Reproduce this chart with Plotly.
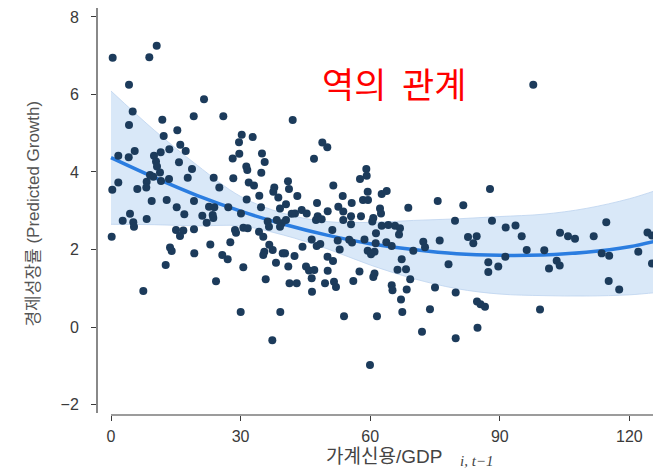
import plotly.graph_objects as go

# ---- data ----
credit_gdp = [
    0.39, 8.87, 10.58, 4.17, 21.53, 5.02, 4.17, 11.88, 19.15, 26.0,
    42.06, 15.35, 12.2, 30.26, 32.8, 29.63, 16.04, 17.29, 13.5, 11.5,
    5.49, 1.69, 4.1, 9.95, 10.42, 15.74, 10.65, 29.7, 28.17, 34.95,
    35.58, 31.32, 31.55, 18.75, 11.34, 9.03, 9.79, 17.76, 13.43, 11.57,
    8.26, 23.77, 28.31, 34.79, 31.88, 33.1, 1.69, 0.3, 6.09, 8.17,
    25.07, 37.8, 37.57, 40.97, 41.2, 34.33, 31.41, 38.73, 9.42, 12.89,
    19.21, 48.92, 50.07, 46.99, 43.13, 47.69, 51.46, 53.64, 55.72, 59.1,
    59.19, 57.64, 59.42, 58.33, 59.49, 62.66, 63.82, 75.63, 81.55, 97.75,
    87.73, 15.21, 22.69, 23.91, 27.15, 34.72, 39.12, 40.51, 4.4, 2.71,
    5.16, 5.32, 8.26, 16.97, 21.14, 23.54, 23.68, 22.15, 30.09, 36.27,
    38.36, 39.51, 40.51, 36.57, 39.12, 0.16, 15.05, 16.74, 15.97, 19.21,
    28.7, 28.94, 30.63, 31.64, 34.26, 35.25, 22.99, 27.62, 13.66, 14.05,
    19.28, 25.76, 27.01, 36.64, 37.43, 35.49, 35.25, 39.75, 12.66, 30.63,
    38.19, 24.31, 35.81, 7.48, 30.02, 39.19, 37.34, 42.59, 41.83, 44.14,
    45.3, 47.85, 47.45, 48.77, 50.16, 52.62, 53.77, 55.56, 53.77, 55.56,
    57.87, 60.72, 60.49, 62.27, 62.5, 62.66, 64.19, 65.74, 66.9, 68.82,
    79.63, 40.28, 41.04, 41.32, 42.48, 42.99, 44.33, 45.14, 45.83, 47.06,
    46.46, 46.53, 46.46, 47.62, 48.45, 49.54, 50.12, 51.39, 50.16, 51.62,
    52.08, 52.48, 52.94, 53.94, 55.14, 55.79, 56.09, 57.52, 58.68, 59.42,
    59.95, 60.72, 61.0, 61.34, 61.57, 61.27, 61.0, 60.19, 63.73, 64.98,
    64.98, 65.16, 66.32, 66.67, 67.13, 67.43, 67.29, 68.29, 69.26, 68.45,
    69.98, 71.99, 72.29, 72.69, 73.84, 75.0, 51.23, 76.09, 78.13, 79.79,
    79.79, 82.64, 83.87, 84.65, 84.72, 85.53, 86.57, 84.84, 88.19, 91.37,
    93.64, 95.07, 87.34, 87.34, 89.65, 91.28, 96.23, 100.3, 101.39, 103.17,
    103.87, 99.31, 103.94, 105.79, 107.41, 111.74, 114.65, 113.59, 115.32, 115.21,
    117.64, 122.06, 124.19, 125.23, 125.23,
]
growth = [
    6.95, 6.96, 7.26, 6.25, 5.88, 5.56, 5.21, 5.35, 5.44, 5.44,
    5.34, 5.08, 4.93, 4.96, 4.90, 4.77, 4.70, 4.54, 4.59, 4.51,
    4.54, 4.42, 4.38, 4.42, 4.27, 4.25, 4.14, 4.47, 4.35, 4.48,
    4.26, 4.14, 4.05, 4.08, 3.99, 3.92, 3.88, 3.85, 3.82, 3.77,
    3.75, 3.85, 3.84, 3.98, 3.73, 3.65, 3.73, 3.54, 3.56, 3.60,
    3.60, 3.60, 3.49, 3.76, 3.56, 3.39, 3.29, 3.34, 3.25, 3.28,
    3.25, 4.76, 4.64, 4.34, 3.38, 3.20, 3.65, 3.38, 3.20, 4.08,
    3.90, 3.82, 3.49, 3.28, 3.28, 3.43, 3.51, 3.25, 3.14, 6.25,
    3.56, 3.09, 3.10, 3.09, 3.09, 3.09, 3.06, 3.17, 2.92, 2.74,
    2.70, 2.59, 2.79, 2.91, 2.87, 2.89, 2.81, 2.69, 2.93, 2.72,
    2.76, 2.68, 2.76, 2.59, 2.59, 2.33, 2.50, 2.49, 2.35, 2.52,
    2.50, 2.43, 2.56, 2.55, 2.46, 2.33, 2.13, 2.19, 2.05, 1.96,
    1.90, 1.86, 1.75, 2.12, 1.99, 1.94, 1.86, 1.90, 1.60, 1.54,
    1.66, 1.18, 1.23, 0.93, 0.39, 0.39, -0.34, 2.93, 2.92, 3.02,
    2.93, 2.86, 2.76, 2.78, 2.99, 3.10, 2.98, 2.86, 2.76, 2.65,
    2.86, 2.81, 2.72, 3.06, 2.93, 2.61, 2.63, 2.61, 2.55, 3.08,
    2.74, 1.90, 1.56, 1.13, 1.83, 1.13, 2.07, 1.56, 1.46, 1.47,
    1.26, 0.91, 2.26, 2.09, 2.14, 1.13, 1.81, 1.70, 1.45, 1.17,
    1.03, 2.23, 2.00, 0.28, 2.25, 2.18, 1.19, 1.43, 2.26, 1.97,
    -0.98, 1.29, 1.38, 2.42, 0.28, 2.16, 1.94, 1.88, 2.19, 2.09,
    1.08, 0.95, 1.48, 2.39, 0.71, 0.39, 1.75, 1.49, 1.23, 0.97,
    1.97, -0.12, 2.20, 2.06, 0.46, 1.02, 2.50, 2.23, 1.62, 0.89,
    -0.29, 2.32, 2.16, 2.34, 0.66, 0.59, 0.52, -0.02, 2.74, 2.57,
    2.62, 2.34, 1.67, 1.42, 1.56, 1.81, 1.99, 1.98, 1.51, 1.71,
    1.59, 0.45, 2.43, 2.34, 2.28, 2.34, 2.70, 1.90, 1.84, 1.19,
    0.97, 1.94, 2.44, 2.36, 1.64,
]

# quadratic fit line and its confidence band, read at these x positions
fit_x = [0, 10, 20, 30, 40, 50, 60, 70, 80, 90, 100, 110, 120, 126.3]
fit_y = [4.37, 3.86, 3.39, 2.99, 2.65, 2.37, 2.15, 2.00, 1.89, 1.85, 1.86, 1.93, 2.07, 2.22]
ci_hi = [6.09, 5.08, 4.17, 3.37, 2.93, 2.72, 2.70, 2.75, 2.79, 2.85, 2.91, 3.06, 3.31, 3.53]
ci_lo = [2.65, 2.64, 2.61, 2.61, 2.37, 2.02, 1.60, 1.25, 0.99, 0.85, 0.81, 0.80, 0.83, 0.89]

x_ticks = [0, 30, 60, 90, 120]
y_ticks = [-2, 0, 2, 4, 6, 8]

x_title = "가계신용/GDP"
x_sub = "<i>i, t−1</i>"
y_title = "경제성장률 (Predicted Growth)"
note = "역의\u00a0\u00a0관계"

# ---- figure ----
BAND = "#d9e8f8"
BAND_EDGE = "#bdd3ef"
LINE = "#2b7de0"
DOT = "#1c3b5b"
AX = "#3a3a3a"

fig = go.Figure()
fig.add_trace(go.Scatter(x=fit_x, y=ci_lo, mode="lines",
                         line=dict(color=BAND_EDGE, width=0.8, shape="spline"),
                         hoverinfo="skip"))
fig.add_trace(go.Scatter(x=fit_x, y=ci_hi, mode="lines", fill="tonexty",
                         fillcolor=BAND,
                         line=dict(color=BAND_EDGE, width=0.8, shape="spline"),
                         hoverinfo="skip"))
fig.add_trace(go.Scatter(x=fit_x, y=fit_y, mode="lines",
                         line=dict(color=LINE, width=3.5, shape="spline")))
fig.add_trace(go.Scatter(x=credit_gdp, y=growth, mode="markers",
                         marker=dict(color=DOT, size=8, line=dict(width=0))))

tickfont = dict(family="Liberation Sans, Arial, sans-serif", size=16, color=AX)
fig.update_xaxes(range=[-3.24, 126.39], tickvals=x_ticks, ticks="outside",
                 ticklen=5, tickwidth=1.2, tickcolor=AX, showgrid=False,
                 zeroline=False, showline=False, tickfont=tickfont,
                 ticklabelstandoff=2)
fig.update_yaxes(range=[-2.271, 8.232], tickvals=y_ticks, ticks="outside",
                 ticklen=5, tickwidth=1.2, tickcolor=AX, showgrid=False,
                 zeroline=False, showline=False, tickfont=tickfont,
                 ticklabelstandoff=9)

# the page body adds an 8px offset, so the figure is 8px smaller each way
fig.update_layout(
    width=653, height=463,
    margin=dict(l=89, r=4, t=0, b=56, autoexpand=False),
    plot_bgcolor="white", paper_bgcolor="white",
    showlegend=False,
    shapes=[
        dict(type="line", xref="paper", yref="paper", x0=0, x1=0,
             y0=0.005, y1=1, line=dict(color=AX, width=1.2)),
        dict(type="line", xref="x", yref="paper", x0=0, x1=126.39,
             y0=0, y1=0, line=dict(color=AX, width=1.2)),
    ],
    annotations=[
        dict(text=note, xref="paper", yref="paper", x=0.530, y=0.816,
             showarrow=False, xanchor="center", yanchor="middle",
             font=dict(family="Noto Sans CJK KR", size=35, color="#ff0000")),
        dict(text=x_title, xref="paper", yref="paper", x=0.5125, y=-0.101,
             showarrow=False, xanchor="center", yanchor="middle",
             font=dict(family="Liberation Sans, Noto Sans CJK KR", size=19, color="#444444")),
        dict(text=x_sub, xref="paper", yref="paper", x=0.6446, y=-0.113,
             showarrow=False, xanchor="left", yanchor="middle",
             font=dict(family="Liberation Serif, Times New Roman, serif", size=15, color="#444444")),
        dict(text=y_title, xref="paper", yref="paper", x=-0.1125, y=0.495,
             showarrow=False, xanchor="center", yanchor="middle", textangle=-90,
             font=dict(family="Liberation Sans, Noto Sans CJK KR", size=17, color="#555555")),
    ],
)

fig.write_html("out.html")
